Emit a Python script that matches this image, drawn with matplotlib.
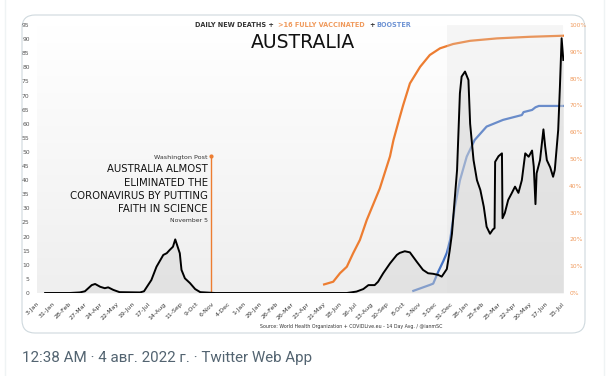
import matplotlib.pyplot as plt
from matplotlib.patches import FancyBboxPatch
from matplotlib.colors import LinearSegmentedColormap
import numpy as np
import pandas as pd

# 14 day avg daily new deaths
death_dates = ['2020-01-18', '2020-03-01', '2020-03-19', '2020-03-28', '2020-04-09', '2020-04-15',
               '2020-04-24', '2020-05-02', '2020-05-08', '2020-05-17', '2020-05-28', '2020-07-03',
               '2020-07-10', '2020-07-23', '2020-08-01', '2020-08-13', '2020-08-19', '2020-08-24',
               '2020-08-30', '2020-09-03', '2020-09-11', '2020-09-14', '2020-09-20', '2020-09-29',
               '2020-10-08', '2020-10-17', '2020-11-12', '2021-07-02', '2021-07-19', '2021-07-31',
               '2021-08-09', '2021-08-20', '2021-08-26', '2021-09-04', '2021-09-16', '2021-09-28',
               '2021-10-03', '2021-10-12', '2021-10-21', '2021-11-02', '2021-11-13', '2021-11-22',
               '2021-12-01', '2021-12-10', '2021-12-16', '2021-12-25', '2021-12-30', '2022-01-03',
               '2022-01-12', '2022-01-17', '2022-01-20', '2022-01-26', '2022-02-01', '2022-02-04',
               '2022-02-10', '2022-02-16', '2022-02-22', '2022-02-28', '2022-03-05', '2022-03-11',
               '2022-03-16', '2022-03-19', '2022-03-20', '2022-03-26', '2022-04-01', '2022-04-02',
               '2022-04-06', '2022-04-12', '2022-04-18', '2022-04-24', '2022-04-30', '2022-05-06',
               '2022-05-12', '2022-05-18', '2022-05-24', '2022-05-27', '2022-05-30', '2022-06-01',
               '2022-06-07', '2022-06-13', '2022-06-16', '2022-06-19', '2022-06-25', '2022-06-30',
               '2022-07-03', '2022-07-09', '2022-07-12', '2022-07-15', '2022-07-18']
deaths = [0, 0, 0.2, 0.6, 2.8, 3.2,
          2.2, 1.7, 2.0, 1.1, 0.3, 0.2,
          0.6, 4.6, 9.3, 13.5, 14.1, 15.2,
          16.4, 19.0, 14.1, 8.2, 5.2, 3.5,
          1.4, 0.3, 0, 0, 0.5, 1.4,
          2.8, 2.8, 4.0, 7.0, 10.5, 13.5,
          14.2, 14.8, 14.4, 11.1, 8.2, 7.0,
          6.8, 6.4, 5.8, 8.5, 15, 21,
          43.6, 70.8, 76.7, 78.5, 75.5, 60,
          47.1, 40, 36.5, 30.6, 23.5, 21,
          22.5, 23, 46.5, 48.5, 49.5, 26.5,
          28.3, 33, 35.3, 37.7, 35.5, 40,
          49.5, 48.3, 50.5, 44.8, 31.5, 42.4,
          47.1, 58, 52, 47.1, 44.5, 41.2,
          43.6, 57.8, 73, 90.3, 82.6]

# >16 fully vaccinated (%)
vax_dates = ['2021-05-23', '2021-06-08', '2021-06-20', '2021-07-02', '2021-07-13', '2021-07-25',
             '2021-08-06', '2021-08-29', '2021-09-16', '2021-09-22', '2021-10-03', '2021-10-09',
             '2021-10-21', '2021-11-08', '2021-11-25', '2021-12-13', '2022-01-05', '2022-02-04',
             '2022-03-23', '2022-05-20', '2022-07-18']
vax = [3.2, 4.2, 7.4, 9.8, 14.8, 19.8,
       27.2, 39.0, 51.0, 57.0, 65.5, 70.0,
       78.2, 84.4, 88.8, 91.3, 92.9, 94.1,
       95.0, 95.6, 96.0]

# booster (%)
boost_dates = ['2021-10-27', '2021-11-25', '2021-12-01', '2021-12-04', '2021-12-10', '2021-12-19',
               '2021-12-25', '2021-12-31', '2022-01-08', '2022-01-17', '2022-01-29', '2022-02-12',
               '2022-03-05', '2022-04-03', '2022-05-06', '2022-05-09', '2022-05-24', '2022-05-30',
               '2022-06-05', '2022-07-18']
boost = [0.8, 3.0, 3.5, 5.0, 8.0, 12.0,
         15.0, 20.0, 32.0, 42.0, 50.9, 57.1,
         62.1, 64.6, 66.4, 67.5, 68.3, 69.3,
         69.8, 69.8]

tick_labels = ['3-Jan', '31-Jan', '28-Feb', '27-Mar', '24-Apr', '22-May', '19-Jun', '17-Jul',
               '14-Aug', '11-Sep', '9-Oct', '6-Nov', '4-Dec', '1-Jan', '29-Jan', '26-Feb',
               '26-Mar', '23-Apr', '21-May', '18-Jun', '16-Jul', '13-Aug', '10-Sep', '8-Oct',
               '5-Nov', '3-Dec', '31-Dec', '28-Jan', '25-Feb', '25-Mar', '22-Apr', '20-May',
               '17-Jun', '15-Jul']
tick_dates = pd.date_range('2020-01-03', periods=len(tick_labels), freq='28D')

wapo_date = '2020-11-05'
wapo_top = 48.6

ORANGE = '#ed7d31'
BLUE = '#4472c4'

W, H = 607, 376
fig = plt.figure(figsize=(W / 100, H / 100), dpi=100)

# background layer in pixel coords (tweet card)
bg = fig.add_axes([0, 0, 1, 1])
bg.set_xlim(0, W)
bg.set_ylim(H, 0)
bg.axis('off')
bg.axvline(4.5, color='#eff3f4', lw=1)
bg.axvline(603.5, color='#eff3f4', lw=1)
card = FancyBboxPatch((22, 15), 563, 318, boxstyle='round,pad=0,rounding_size=13',
                      fc='white', ec='#cfd9de', lw=0.8, zorder=0)
bg.add_patch(card)
bg.text(22, 358, '12:38 AM · 4 авг. 2022 г. · Twitter Web App', fontsize=10.9,
        color='#536471', va='center', ha='left', family='Roboto')

# plot area
x0, x1, ytop, ybot = 36.6, 563.6, 25, 293

# soft grey gradient behind the plot
cmap = LinearSegmentedColormap.from_list('g', ['#ffffff', '#efefef'])
grad = np.linspace(0, 1, 100).reshape(-1, 1)
bg.imshow(grad, extent=[x0, x1, ybot, ytop], cmap=cmap, aspect='auto',
          origin='upper', zorder=1)

# titles
tkw = dict(fontsize=4.7, weight='bold', va='center', zorder=3)
bg.text(195, 25, 'DAILY NEW DEATHS +', color='#333333', **tkw)
bg.text(278, 25, '>16 FULLY VACCINATED', color='#f09a5c', **tkw)
bg.text(369, 25, '+', color='#333333', **tkw)
bg.text(376, 25, 'BOOSTER', color='#6f94d4', **tkw)
bg.text(303, 42, 'AUSTRALIA', fontsize=13.5, color='#111111', ha='center', va='center', zorder=3)
bg.text(351.5, 326.7, 'Source: World Health Organization + COVIDLive.eu - 14 Day Avg. / @ianmSC',
        fontsize=3.4, color='#333333', ha='center', va='center', zorder=3)

# headline annotation
bg.text(208, 157.7, 'Washington Post', fontsize=4.6, color='#333333', ha='right', va='center', zorder=3)
for txt, yy in [('AUSTRALIA ALMOST', 169.3), ('ELIMINATED THE', 182.7),
                ('CORONAVIRUS BY PUTTING', 196), ('FAITH IN SCIENCE', 209.3)]:
    bg.text(208, yy, txt, fontsize=7.3, color='#111111', ha='right', va='center', zorder=3)
bg.text(208, 220, 'November 5', fontsize=4.4, color='#333333', ha='right', va='center', zorder=3)

# main axes
ax = fig.add_axes([x0 / W, (H - ybot) / H, (x1 - x0) / W, (ybot - ytop) / H])
ax.patch.set_alpha(0)

dd = pd.to_datetime(death_dates)
ax.fill_between(dd, deaths, color='#d4d4d4', alpha=0.45, lw=0, zorder=1)
ax.axvspan(pd.Timestamp('2021-12-26'), pd.Timestamp('2022-07-18'), color='#dddddd',
           alpha=0.25, lw=0, zorder=1)
ax.plot(dd, deaths, color='black', lw=1.4, zorder=5)

wd = pd.Timestamp(wapo_date)
ax.plot([wd, wd], [0, wapo_top], color=ORANGE, lw=1, zorder=4)
ax.plot([wd], [wapo_top], 'o', color=ORANGE, ms=2, zorder=4)

ax.set_ylim(0, 95)
ax.set_yticks(range(0, 96, 5))
ax.set_xlim(pd.Timestamp('2020-01-03'), pd.Timestamp('2022-07-18 12:00'))
ax.set_xticks(tick_dates)
ax.set_xticklabels(tick_labels, rotation=45, ha='right', rotation_mode='anchor')
ax.tick_params(axis='x', length=0, pad=6, labelsize=4.5, labelcolor='#333333')
ax.tick_params(axis='y', length=0, pad=5, labelsize=4.3, labelcolor='#555555')
for s in ax.spines.values():
    s.set_visible(False)

ax2 = ax.twinx()
ax2.plot(pd.to_datetime(vax_dates), vax, color=ORANGE, lw=1.6, zorder=3)
ax2.plot(pd.to_datetime(boost_dates), boost, color=BLUE, lw=1.6, zorder=3)
ax2.set_ylim(0, 100)
ax2.set_yticks(range(0, 101, 10))
ax2.set_yticklabels([f'{v}%' for v in range(0, 101, 10)])
ax2.tick_params(axis='y', length=0, pad=4, labelsize=4.3, labelcolor='#f09a5c')
for s in ax2.spines.values():
    s.set_visible(False)
ax.set_zorder(ax2.get_zorder() + 1)

fig.savefig('out.png', dpi=100)
